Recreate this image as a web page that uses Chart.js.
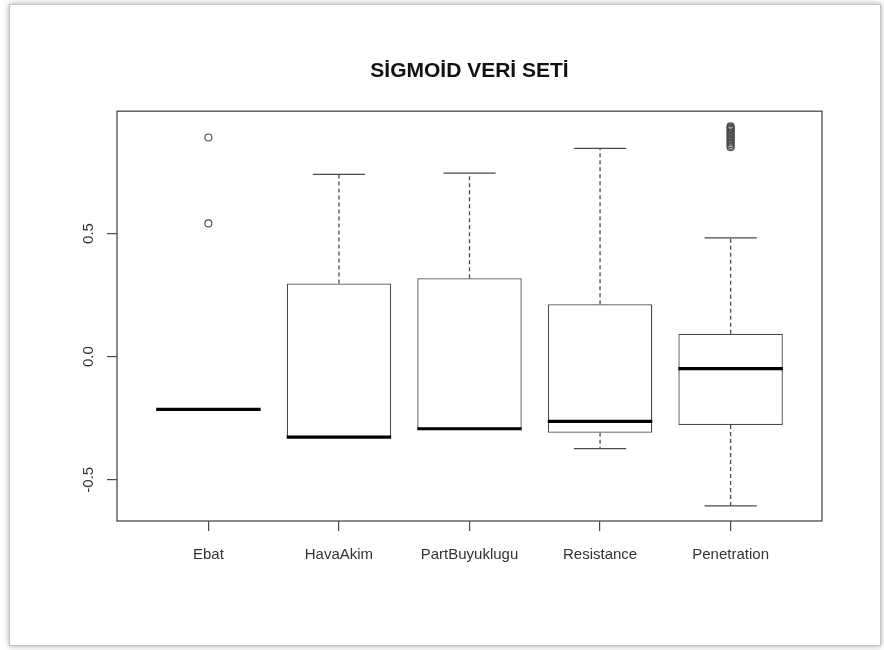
<!DOCTYPE html>
<html>
<head>
<meta charset="utf-8">
<script src="https://cdn.jsdelivr.net/npm/chart.js@4.4.1/dist/chart.umd.min.js"></script>
<style>
  html, body { margin: 0; padding: 0; background: #fff; }
  #page { position: relative; width: 884px; height: 650px; overflow: hidden; }
  #frame {
    position: absolute; left: 9px; top: 4px; width: 870px; height: 640px;
    border: 1px solid #c4c4c4; background: #fff;
    box-shadow: 0 0 6px rgba(0, 0, 0, 0.35);
  }
  #boxChart { position: absolute; left: 0; top: 0; }
</style>
</head>
<body>
<div id="page">
  <div id="frame"></div>
  <canvas id="boxChart" width="884" height="650"></canvas>
</div>
<script>
// kutu grafiği değerleri
const categories = ["Ebat", "HavaAkim", "PartBuyuklugu", "Resistance", "Penetration"];
const whiskerLow = [-0.214, -0.327, -0.293, -0.374, -0.606];
const q1 = [-0.214, -0.327, -0.293, -0.309, -0.278];
const median = [-0.214, -0.327, -0.293, -0.263, -0.049];
const q3 = [-0.214, 0.297, 0.318, 0.213, 0.093];
const whiskerHigh = [-0.214, 0.740, 0.745, 0.846, 0.482];
const outliers = [
  [0.890, 0.541],
  [],
  [],
  [],
  [0.935, 0.930, 0.925, 0.920, 0.914, 0.908, 0.902, 0.896, 0.890, 0.884, 0.877, 0.870, 0.863, 0.856, 0.850]
];
const yTicks = [-0.5, 0.0, 0.5];

const lineColor = "#4a4a4a";
const fontFamily = "'Liberation Sans', Arial, sans-serif";

// R gibi eksen aralığını %4 genişlet
const allVals = whiskerLow.concat(whiskerHigh, ...outliers);
const lo = Math.min(...allVals), hi = Math.max(...allVals);
const pad = (hi - lo) * 0.04;
const xPad = categories.length * 0.04;

const boxData = categories.map((c, i) => ({ x: i + 1, y: [q1[i], q3[i]] }));
const outlierData = [];
outliers.forEach((list, i) => list.forEach(v => outlierData.push({ x: i + 1, y: v })));

// medyan, bıyık ve çerçeve çizimi
const boxExtras = {
  id: "boxExtras",
  afterDatasetsDraw(chart) {
    const ctx = chart.ctx;
    const xs = chart.scales.x, ys = chart.scales.y;
    const bars = chart.getDatasetMeta(0).data;
    ctx.save();
    ctx.strokeStyle = lineColor;
    categories.forEach((c, i) => {
      const cx = xs.getPixelForValue(i + 1);
      const w = bars[i].width;
      const yQ1 = ys.getPixelForValue(q1[i]);
      const yQ3 = ys.getPixelForValue(q3[i]);
      const yLo = ys.getPixelForValue(whiskerLow[i]);
      const yHi = ys.getPixelForValue(whiskerHigh[i]);
      ctx.lineWidth = 1.3;
      // bıyıklar
      ctx.setLineDash([4, 3]);
      ctx.beginPath();
      if (yHi < yQ3) { ctx.moveTo(cx, yQ3); ctx.lineTo(cx, yHi); }
      if (yLo > yQ1) { ctx.moveTo(cx, yQ1); ctx.lineTo(cx, yLo); }
      ctx.stroke();
      ctx.setLineDash([]);
      ctx.beginPath();
      ctx.moveTo(cx - w / 4, yHi); ctx.lineTo(cx + w / 4, yHi);
      ctx.moveTo(cx - w / 4, yLo); ctx.lineTo(cx + w / 4, yLo);
      ctx.stroke();
      // medyan
      ctx.strokeStyle = "#000";
      ctx.lineWidth = 3.2;
      const yM = ys.getPixelForValue(median[i]);
      ctx.beginPath();
      ctx.moveTo(cx - w / 2, yM); ctx.lineTo(cx + w / 2, yM);
      ctx.stroke();
      ctx.strokeStyle = lineColor;
    });
    const a = chart.chartArea;
    ctx.lineWidth = 1.3;
    ctx.strokeRect(a.left, a.top, a.right - a.left, a.bottom - a.top);
    ctx.restore();
  }
};

new Chart(document.getElementById("boxChart"), {
  type: "bar",
  data: {
    datasets: [
      {
        type: "bar",
        data: boxData,
        backgroundColor: "#fff",
        borderColor: lineColor,
        borderWidth: 1.3,
        borderSkipped: false,
        barPercentage: 0.8,
        categoryPercentage: 1.0,
        order: 2
      },
      {
        type: "scatter",
        data: outlierData,
        pointStyle: "circle",
        pointRadius: 3.5,
        pointBorderWidth: 1.1,
        pointBorderColor: lineColor,
        pointBackgroundColor: "rgba(0,0,0,0)",
        order: 1
      }
    ]
  },
  plugins: [boxExtras],
  options: {
    responsive: false,
    animation: false,
    layout: { padding: { left: 0, right: 62, top: 0, bottom: 0 } },
    plugins: {
      legend: { display: false },
      tooltip: { enabled: false },
      title: {
        display: true,
        fullSize: false,
        text: "SİGMOİD VERİ SETİ",
        color: "#111",
        font: { family: fontFamily, size: 21, weight: "bold", lineHeight: 1.2 },
        padding: { top: 59, bottom: 27 }
      }
    },
    scales: {
      x: {
        type: "linear",
        offset: false,
        min: 0.5 - xPad,
        max: categories.length + 0.5 + xPad,
        afterBuildTicks: s => { s.ticks = categories.map((c, i) => ({ value: i + 1 })); },
        afterFit: s => { s.height = 129; },
        border: { display: false },
        grid: { offset: false, drawOnChartArea: false, drawTicks: true, tickLength: 10, color: lineColor, lineWidth: 1.2 },
        ticks: {
          color: "#333",
          padding: 15,
          maxRotation: 0,
          autoSkip: false,
          font: { family: fontFamily, size: 15 },
          callback: v => categories[v - 1]
        }
      },
      y: {
        type: "linear",
        min: lo - pad,
        max: hi + pad,
        afterBuildTicks: s => { s.ticks = yTicks.map(v => ({ value: v })); },
        afterFit: s => { s.width = 117; },
        border: { display: false },
        grid: { drawOnChartArea: false, drawTicks: true, tickLength: 10, color: lineColor, lineWidth: 1.2 },
        ticks: {
          color: "#333",
          padding: 5,
          minRotation: 90,
          maxRotation: 90,
          crossAlign: "center",
          font: { family: fontFamily, size: 15 },
          callback: v => v.toFixed(1)
        }
      }
    }
  }
});
</script>
</body>
</html>
